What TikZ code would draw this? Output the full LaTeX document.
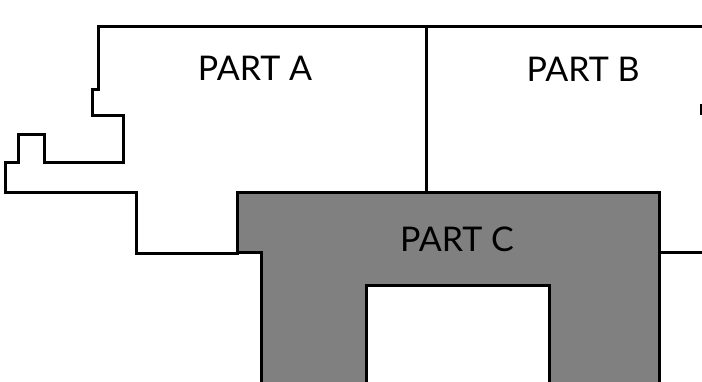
\documentclass[tikz,border=0pt]{standalone}
\usepackage{fontspec}
\setmainfont{Lato}
\usepackage{tikz}
\usetikzlibrary{positioning}

\begin{document}
\begin{tikzpicture}[x=1pt, y=-1pt, wall/.style={line width=3pt, line join=miter, line cap=rect}, label/.style={font=\fontsize{34}{38}\selectfont, inner sep=0pt}]
	\useasboundingbox (0,0) rectangle (702,382);
	% part C
	\fill[gray] (237,193) -- (659,193) -- (659,382) -- (549,382) -- (549,286) -- (366,286) -- (366,382) -- (261,382) -- (261,253) -- (237,253) -- cycle;
	\draw[wall] (261,382) -- (261,253) -- (237,253) -- (237,193) -- (659,193) -- (659,382);
	\draw[wall] (366,382) -- (366,286) -- (549,286) -- (549,382);
	% outline of part A and B
	\draw[wall] (702,26.5) -- (98,26.5) -- (98,90) -- (92,90) -- (92,116) -- (123,116) -- (123,163) -- (44,163) -- (44,135) -- (18,135) -- (18,163) -- (5,163) -- (5,193) -- (136,193) -- (136,254) -- (237,254);
	\draw[wall] (426,26.5) -- (426,193);
	\draw[wall] (659,253) -- (702,253);
	\draw[wall] (701,106) -- (701,114);
	\draw (255,68.5) node[label](partA){PART A};
	\draw (583,69) node[label](partB){PART B};
	\draw (457,239) node[label](partC){PART C};
\end{tikzpicture}
\end{document}
